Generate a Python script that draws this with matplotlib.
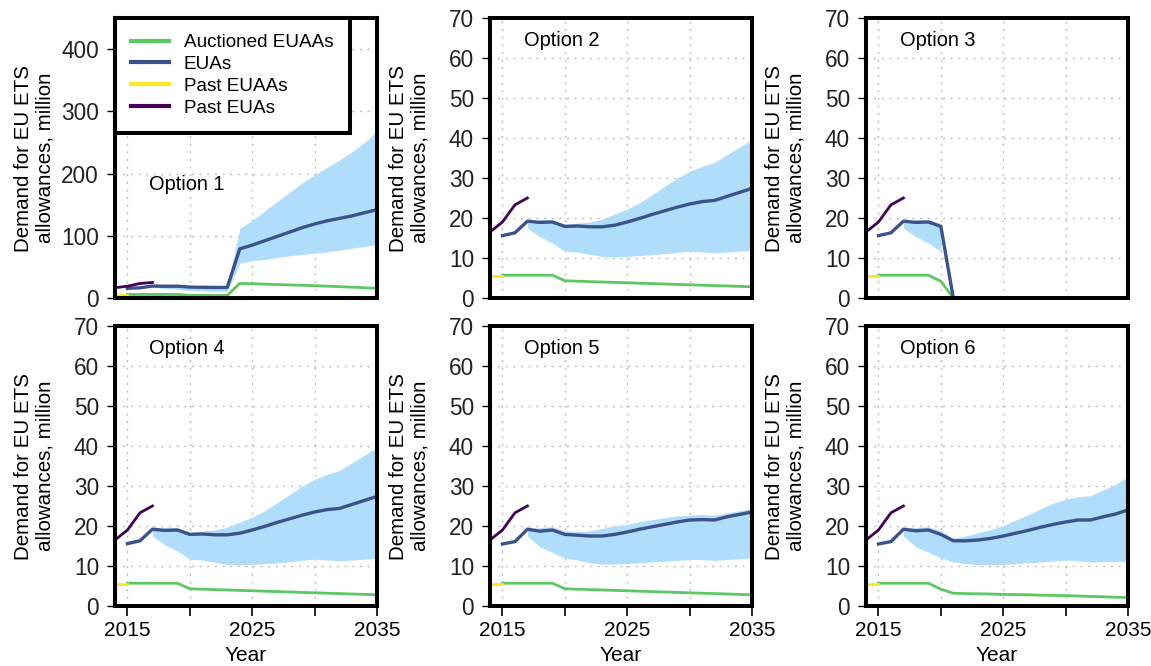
import matplotlib
matplotlib.use("Agg")
import matplotlib.pyplot as plt
import numpy as np

plt.rcParams['font.family'] = ['Liberation Sans', 'DejaVu Sans']

# ---------------- data ----------------
years = list(range(2015, 2036))
band_years = list(range(2017, 2036))
past_years = [2014, 2015, 2016, 2017]
past_euas = [16.5, 19.0, 23.3, 25.0]
past_euaa_years = [2014, 2015]
past_euaas = [5.5, 5.5]

# Option 1
opt1_euas = [15.6, 16.3, 19.2, 18.9, 19.0, 17.5, 17.2, 17.0, 17.0, 79, 85, 92, 99, 106, 113, 119, 124, 128, 132, 137, 142]
opt1_lo = [17.5, 15.3, 13.7, 11.7, 11.5, 11.0, 11.0, 56, 60, 62, 65, 68, 70, 72, 74, 77, 80, 83, 86]
opt1_hi = [19.0, 19.6, 19.5, 18.4, 18.5, 18.5, 18.5, 112, 125, 140, 155, 170, 185, 198, 210, 222, 235, 250, 268]
opt1_auct = [5.7, 5.7, 5.7, 5.7, 5.7, 4.3, 4.2, 4.1, 4.0, 23.5, 23.0, 22.3, 21.6, 21.0, 20.4, 19.8, 19.0, 18.2, 17.4, 16.5, 15.6]

# Option 2 (Option 4 identical)
opt2_euas = [15.6, 16.3, 19.2, 18.9, 19.0, 17.9, 18.0, 17.8, 17.8, 18.2, 19.0, 19.9, 20.9, 21.8, 22.7, 23.5, 24.1, 24.4, 25.4, 26.4, 27.4]
opt2_lo = [17.5, 15.3, 13.7, 11.7, 11.5, 10.9, 10.4, 10.3, 10.4, 10.6, 10.8, 11.1, 11.4, 11.7, 11.5, 11.3, 11.5, 11.7, 11.9]
opt2_hi = [19.0, 19.6, 19.5, 18.4, 18.7, 19.0, 19.7, 21.0, 22.2, 23.8, 25.8, 27.9, 30.0, 31.7, 32.9, 33.9, 35.8, 37.7, 39.7]
opt2_auct = [5.7, 5.7, 5.7, 5.7, 5.7, 4.3, 4.2, 4.1, 4.0, 3.9, 3.8, 3.7, 3.6, 3.5, 3.4, 3.3, 3.2, 3.1, 3.0, 2.9, 2.8]

# Option 3
opt3_years = [2015, 2016, 2017, 2018, 2019, 2020, 2021]
opt3_euas = [15.6, 16.3, 19.2, 18.9, 19.0, 17.9, 0.0]
opt3_band_years = [2017, 2018, 2019, 2020]
opt3_lo = [17.5, 15.3, 13.7, 11.7]
opt3_hi = [19.0, 19.6, 19.6, 18.6]
opt3_auct = [5.7, 5.7, 5.7, 5.7, 5.7, 4.2, 0.0]

# Option 4
opt4_euas = opt2_euas
opt4_lo = opt2_lo
opt4_hi = opt2_hi
opt4_auct = opt2_auct

# Option 5
opt5_euas = [15.5, 16.1, 19.2, 18.7, 19.0, 17.9, 17.7, 17.5, 17.5, 17.9, 18.5, 19.2, 19.8, 20.4, 21.0, 21.5, 21.6, 21.5, 22.3, 22.9, 23.5]
opt5_lo = [17.5, 14.8, 13.4, 11.9, 11.5, 10.8, 10.5, 10.5, 10.6, 10.8, 11.0, 11.2, 11.4, 11.6, 11.6, 11.4, 11.6, 11.8, 12.0]
opt5_hi = [19.3, 19.6, 19.8, 18.8, 18.6, 18.8, 19.4, 20.0, 20.4, 21.1, 21.6, 22.1, 22.5, 22.7, 22.9, 22.7, 23.3, 23.8, 24.3]
opt5_auct = opt2_auct

# Option 6
opt6_euas = [15.5, 16.1, 19.2, 18.8, 19.0, 17.9, 16.3, 16.3, 16.5, 16.9, 17.5, 18.2, 18.9, 19.7, 20.4, 21.0, 21.5, 21.5, 22.3, 23.0, 24.0]
opt6_lo = [17.5, 14.8, 13.4, 12.0, 11.0, 10.6, 10.3, 10.3, 10.4, 10.6, 10.8, 11.0, 11.2, 11.5, 11.3, 11.0, 11.1, 11.1, 11.2]
opt6_hi = [19.3, 19.6, 19.8, 18.8, 16.9, 17.5, 18.3, 19.1, 20.1, 21.5, 22.8, 24.3, 25.7, 26.7, 27.3, 27.6, 29.0, 30.4, 32.3]
opt6_auct = [5.7, 5.7, 5.7, 5.7, 5.7, 4.2, 3.2, 3.1, 3.05, 3.0, 2.9, 2.85, 2.8, 2.7, 2.65, 2.6, 2.5, 2.4, 2.3, 2.2, 2.1]

option_labels = ["Option 1", "Option 2", "Option 3", "Option 4", "Option 5", "Option 6"]
x_ticks = [2015, 2020, 2025, 2030, 2035]
x_ticklabels = ["2015", "", "2025", "", "2035"]
y_ticks_small = [0, 10, 20, 30, 40, 50, 60, 70]
y_ticks_big = [0, 100, 200, 300, 400]

panels = [
    dict(x=years, e=opt1_euas, bx=band_years, lo=opt1_lo, hi=opt1_hi, a=opt1_auct),
    dict(x=years, e=opt2_euas, bx=band_years, lo=opt2_lo, hi=opt2_hi, a=opt2_auct),
    dict(x=opt3_years, e=opt3_euas, bx=opt3_band_years, lo=opt3_lo, hi=opt3_hi, a=opt3_auct),
    dict(x=years, e=opt4_euas, bx=band_years, lo=opt4_lo, hi=opt4_hi, a=opt4_auct),
    dict(x=years, e=opt5_euas, bx=band_years, lo=opt5_lo, hi=opt5_hi, a=opt5_auct),
    dict(x=years, e=opt6_euas, bx=band_years, lo=opt6_lo, hi=opt6_hi, a=opt6_auct),
]

# ---------------- styles ----------------
C_GREEN = "#5DC863"
C_BLUE = "#3B528B"
C_YELLOW = "#FDE725"
C_PURPLE = "#440154"
C_BAND = "#B0DEFA"

W, H = 1151, 666
fig = plt.figure(figsize=(W / 100, H / 100), dpi=100)

lefts = [115, 490, 866]
tops = [18, 326]
aw, ah = 262, 280

for i, p in enumerate(panels):
    r, c = divmod(i, 3)
    l = lefts[c]
    t = tops[r]
    ax = fig.add_axes([l / W, 1 - (t + ah) / H, aw / W, ah / H])
    ax.set_xlim(2014, 2035)
    if i == 0:
        ax.set_ylim(0, 450)
        ax.set_yticks(y_ticks_big)
    else:
        ax.set_ylim(0, 70)
        ax.set_yticks(y_ticks_small)
    ax.set_xticks(x_ticks)
    for xv in x_ticks[:-1]:
        ax.axvline(xv, color="#BDBDBD", lw=1.0, ls=(0, (1.5, 4)), zorder=0)
    for yv in ax.get_yticks()[1:]:
        ax.axhline(yv, color="#BDBDBD", lw=1.0, ls=(0, (1.5, 4)), zorder=0)

    ax.fill_between(p["bx"], p["lo"], p["hi"], color=C_BAND, lw=0, zorder=1)
    l_a, = ax.plot(p["x"], p["a"], color=C_GREEN, lw=2.0, zorder=3, label="Auctioned EUAAs")
    l_e, = ax.plot(p["x"], p["e"], color=C_BLUE, lw=2.4, zorder=4, label="EUAs")
    l_pa, = ax.plot(past_euaa_years, past_euaas, color=C_YELLOW, lw=2.0, zorder=3, label="Past EUAAs")
    l_pe, = ax.plot(past_years, past_euas, color=C_PURPLE, lw=2.0, zorder=4, label="Past EUAs")

    for s in ax.spines.values():
        s.set_linewidth(2.9)
        s.set_color("black")
        s.set_zorder(10)
    ax.tick_params(axis="y", direction="out", length=6, width=1, labelsize=16.3, pad=5.5, colors="black")
    for tl in ax.get_yticklabels():
        tl.set_color("#222222")
    if r == 1:
        ax.set_xticklabels(x_ticklabels)
        ax.tick_params(axis="x", direction="out", length=7, width=1.2, labelsize=15, pad=4)
        ax.set_xlabel("Year", fontsize=15, labelpad=4)
    else:
        ax.tick_params(axis="x", length=0, labelbottom=False)
    ax.set_ylabel("Demand for EU ETS\nallowances, million", fontsize=14.8, linespacing=1.15)
    ax.yaxis.set_label_coords(-0.232, 0.5)

    if i == 0:
        ax.text(0.13, 0.404, option_labels[i], transform=ax.transAxes, fontsize=14.4, va="center", ha="left")
        leg = ax.legend(handles=[l_a, l_e, l_pa, l_pe], loc="upper left", bbox_to_anchor=(0, 1),
                        borderaxespad=0, fontsize=13.6, fancybox=False, framealpha=1,
                        handlelength=2.0, handletextpad=0.8, labelspacing=0.24,
                        borderpad=0.85)
        leg.get_frame().set_edgecolor("black")
        leg.get_frame().set_linewidth(2.9)
        leg.set_zorder(12)
        for lh in leg.get_lines():
            lh.set_linewidth(3.0)
    else:
        ax.text(0.13, 0.92, option_labels[i], transform=ax.transAxes, fontsize=14.4, va="center", ha="left")

fig.savefig("out.png", dpi=100)
